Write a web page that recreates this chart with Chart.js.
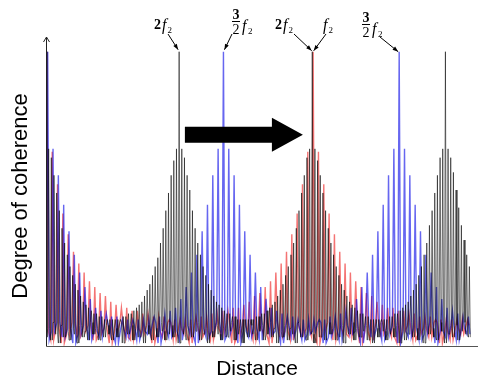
<!DOCTYPE html>
<html>
<head>
<meta charset="utf-8">
<script src="https://cdn.jsdelivr.net/npm/chart.js@4"></script>
<style>
  html, body { margin: 0; padding: 0; background: #fff; }
</style>
</head>
<body>
<canvas id="coherenceChart" width="481" height="381"></canvas>
<script>
// fringe spacing along the distance axis (2f2 fringes are twice as dense)
const blackStep = 0.625;
const colorStep = 1.25;

// fringe tops (upper envelope) and fringe bottoms, one per fringe
const blackPeaks = [
    1.00, 0.67, 0.64, 0.58, 0.52, 0.46, 0.40, 0.35, 0.31, 0.27,
    0.24, 0.21, 0.19, 0.17, 0.15, 0.14, 0.13, 0.12, 0.11, 0.11,
    0.10, 0.10, 0.09, 0.09, 0.09, 0.09, 0.09, 0.09, 0.09, 0.10,
    0.10, 0.11, 0.11, 0.12, 0.13, 0.14, 0.15, 0.17, 0.19, 0.21,
    0.24, 0.27, 0.30, 0.35, 0.40, 0.46, 0.52, 0.58, 0.63, 0.67,
    1.00, 0.67, 0.64, 0.58, 0.53, 0.46, 0.40, 0.35, 0.31, 0.27,
    0.24, 0.21, 0.19, 0.17, 0.15, 0.14, 0.13, 0.12, 0.11, 0.11,
    0.10, 0.10, 0.09, 0.09, 0.09, 0.09, 0.09, 0.09, 0.09, 0.10,
    0.10, 0.11, 0.11, 0.12, 0.13, 0.14, 0.15, 0.17, 0.19, 0.21,
    0.24, 0.27, 0.31, 0.35, 0.40, 0.46, 0.52, 0.58, 0.64, 0.67,
    1.00, 0.67, 0.63, 0.58, 0.52, 0.46, 0.40, 0.35, 0.31, 0.27,
    0.24, 0.21, 0.19, 0.17, 0.15, 0.14, 0.13, 0.12, 0.11, 0.11,
    0.10, 0.10, 0.09, 0.09, 0.09, 0.09, 0.09, 0.09, 0.09, 0.10,
    0.10, 0.11, 0.11, 0.12, 0.13, 0.14, 0.15, 0.17, 0.19, 0.21,
    0.24, 0.27, 0.31, 0.35, 0.41, 0.46, 0.52, 0.58, 0.64, 0.67,
    1.00, 0.67, 0.64, 0.59, 0.53, 0.47, 0.41, 0.36, 0.31, 0.27
];
const blackLows = [
    0.03, 0.06, 0.02, 0.08, 0.04, 0.01, 0.07, 0.03, 0.05, 0.02,
    0.06, 0.04, 0.01, 0.07, 0.03, 0.05, 0.02, 0.08, 0.04, 0.06,
    0.02, 0.05, 0.03, 0.07, 0.04, 0.02, 0.06, 0.03, 0.08, 0.01,
    0.05, 0.04, 0.07, 0.02, 0.06, 0.03, 0.05, 0.01, 0.07, 0.04,
    0.02, 0.06, 0.03, 0.08, 0.05, 0.02, 0.04, 0.07, 0.03, 0.05,
    0.01, 0.06, 0.04, 0.02, 0.07, 0.03, 0.05, 0.08, 0.02, 0.04,
    0.06, 0.01, 0.05, 0.03, 0.07, 0.04, 0.02, 0.06, 0.03, 0.05,
    0.08, 0.02, 0.04, 0.06, 0.01, 0.05, 0.03, 0.07, 0.04, 0.02,
    0.05, 0.07, 0.02, 0.04, 0.08, 0.03, 0.06, 0.01, 0.05, 0.03,
    0.07, 0.02, 0.06, 0.04, 0.01, 0.08, 0.03, 0.05, 0.02, 0.06,
    0.04, 0.01, 0.07, 0.03, 0.05, 0.02, 0.08, 0.04, 0.06, 0.02,
    0.03, 0.07, 0.01, 0.05, 0.04, 0.08, 0.02, 0.06, 0.03, 0.05,
    0.07, 0.02, 0.04, 0.01, 0.06, 0.03, 0.08, 0.05, 0.02, 0.04,
    0.06, 0.03, 0.07, 0.01, 0.05, 0.02, 0.04, 0.08, 0.03, 0.06,
    0.02, 0.05, 0.01, 0.07, 0.04, 0.06, 0.03, 0.02, 0.08, 0.05,
    0.01, 0.04, 0.06, 0.03, 0.07, 0.02, 0.05, 0.08, 0.04, 0.03
];

const bluePeaks = [
    1.00, 0.67, 0.58, 0.48, 0.39, 0.31, 0.25, 0.20, 0.16, 0.13,
    0.12, 0.11, 0.10, 0.10, 0.09, 0.09, 0.09, 0.09, 0.09, 0.09,
    0.10, 0.10, 0.11, 0.12, 0.13, 0.16, 0.20, 0.25, 0.31, 0.39,
    0.48, 0.58, 0.67, 1.00, 0.67, 0.58, 0.48, 0.39, 0.31, 0.25,
    0.20, 0.16, 0.13, 0.12, 0.11, 0.10, 0.10, 0.09, 0.09, 0.09,
    0.09, 0.09, 0.09, 0.10, 0.10, 0.11, 0.12, 0.13, 0.16, 0.20,
    0.25, 0.31, 0.39, 0.48, 0.58, 0.67, 1.00, 0.67, 0.58, 0.48,
    0.39, 0.31, 0.25, 0.20, 0.16, 0.13, 0.12, 0.11, 0.10, 0.10
];
const blueLows = [
    0.02, 0.05, 0.08, 0.03, 0.06, 0.01, 0.04, 0.07, 0.02, 0.05,
    0.03, 0.08, 0.04, 0.01, 0.06, 0.03, 0.07, 0.02, 0.05, 0.04,
    0.08, 0.01, 0.06, 0.03, 0.05, 0.02, 0.07, 0.04, 0.01, 0.06,
    0.03, 0.05, 0.08, 0.02, 0.04, 0.07, 0.01, 0.05, 0.03, 0.06,
    0.02, 0.08, 0.04, 0.05, 0.01, 0.07, 0.03, 0.06, 0.02, 0.04,
    0.05, 0.08, 0.01, 0.03, 0.06, 0.02, 0.07, 0.04, 0.05, 0.01,
    0.08, 0.03, 0.06, 0.02, 0.04, 0.07, 0.01, 0.05, 0.03, 0.06,
    0.02, 0.04, 0.08, 0.01, 0.05, 0.03, 0.07, 0.02, 0.06, 0.04
];

const redPeaks = [
    1.00, 0.66, 0.55, 0.45, 0.38, 0.32, 0.28, 0.25, 0.22, 0.20,
    0.18, 0.17, 0.15, 0.14, 0.13, 0.13, 0.12, 0.12, 0.11, 0.11,
    0.10, 0.10, 0.10, 0.09, 0.09, 0.09, 0.09, 0.09, 0.10, 0.10,
    0.10, 0.11, 0.11, 0.12, 0.12, 0.13, 0.13, 0.14, 0.15, 0.17,
    0.18, 0.20, 0.22, 0.25, 0.28, 0.32, 0.38, 0.45, 0.55, 0.66,
    1.00, 0.66, 0.55, 0.45, 0.38, 0.32, 0.28, 0.25, 0.22, 0.20,
    0.18, 0.17, 0.15, 0.14, 0.13, 0.13, 0.12, 0.12, 0.11, 0.11,
    0.10, 0.10, 0.10, 0.09, 0.09, 0.09, 0.09, 0.09, 0.09, 0.09
];
const redLows = [
    0.05, 0.02, 0.06, 0.01, 0.04, 0.08, 0.03, 0.05, 0.07, 0.02,
    0.04, 0.06, 0.01, 0.05, 0.08, 0.03, 0.02, 0.06, 0.04, 0.07,
    0.01, 0.05, 0.03, 0.08, 0.02, 0.06, 0.04, 0.01, 0.07, 0.03,
    0.05, 0.02, 0.06, 0.04, 0.08, 0.01, 0.03, 0.07, 0.05, 0.02,
    0.06, 0.04, 0.01, 0.08, 0.03, 0.05, 0.02, 0.07, 0.04, 0.06,
    0.03, 0.01, 0.05, 0.08, 0.02, 0.06, 0.04, 0.03, 0.07, 0.01,
    0.05, 0.02, 0.08, 0.04, 0.06, 0.03, 0.01, 0.05, 0.07, 0.02,
    0.04, 0.06, 0.03, 0.08, 0.01, 0.05, 0.02, 0.06, 0.04, 0.07
];

// each fringe is a narrow spike: foot, top, foot
function fringes(peaks, lows, dx, shift, half) {
    const pts = [];
    peaks.forEach((p, i) => {
        const x = i * dx + shift;
        pts.push({ x: x - half, y: lows[i] });
        pts.push({ x: x, y: p });
        pts.push({ x: x + half, y: lows[i] });
    });
    return pts;
}

function arrow(ctx, x1, y1, x2, y2) {
    const a = Math.atan2(y2 - y1, x2 - x1);
    ctx.beginPath();
    ctx.moveTo(x1, y1);
    ctx.lineTo(x2, y2);
    ctx.stroke();
    ctx.beginPath();
    ctx.moveTo(x2, y2);
    ctx.lineTo(x2 - 6 * Math.cos(a - 0.35), y2 - 6 * Math.sin(a - 0.35));
    ctx.lineTo(x2 - 6 * Math.cos(a + 0.35), y2 - 6 * Math.sin(a + 0.35));
    ctx.closePath();
    ctx.fill();
}

// "2f2" or "f2" with an optional leading number
function fLabel(ctx, x, base, lead) {
    let cx = x;
    ctx.textAlign = 'left';
    if (lead) {
        ctx.font = 'bold 14px "Liberation Serif"';
        ctx.fillText(lead, cx, base);
        cx += ctx.measureText(lead).width + 1;
    }
    ctx.font = 'italic 16px "Liberation Serif"';
    ctx.fillText('f', cx, base + 1);
    cx += ctx.measureText('f').width + 1;
    ctx.font = '9px "Liberation Serif"';
    ctx.fillText('2', cx, base + 4);
}

// "3/2 f2" written as a stacked fraction
function fracLabel(ctx, x, base) {
    ctx.font = 'bold 14px "Liberation Serif"';
    ctx.textAlign = 'center';
    ctx.fillText('3', x + 4, base - 12);
    ctx.fillRect(x, base - 10, 8, 1);
    ctx.font = '14px "Liberation Serif"';
    ctx.fillText('2', x + 4, base + 3);
    ctx.textAlign = 'left';
    ctx.font = 'italic 16px "Liberation Serif"';
    ctx.fillText('f', x + 10, base);
    ctx.font = '9px "Liberation Serif"';
    ctx.fillText('2', x + 16, base + 3);
}

const overlay = {
    id: 'overlay',
    afterDatasetsDraw(chart) {
        const ctx = chart.ctx;
        const xs = chart.scales.x;
        const ys = chart.scales.y;
        const area = chart.chartArea;
        const x0 = Math.round(xs.getPixelForValue(0)) + 0.5;
        const y0 = Math.round(ys.getPixelForValue(0)) + 0.5;
        const yTop = ys.getPixelForValue(1.0);
        ctx.save();

        // axes
        ctx.strokeStyle = '#222';
        ctx.lineWidth = 1;
        ctx.beginPath();
        ctx.moveTo(x0, y0);
        ctx.lineTo(x0, area.top);
        ctx.moveTo(x0 - 3, area.top + 5);
        ctx.lineTo(x0, area.top);
        ctx.lineTo(x0 + 3, area.top + 5);
        ctx.stroke();
        ctx.strokeStyle = '#555';
        ctx.beginPath();
        ctx.moveTo(x0, y0);
        ctx.lineTo(area.right, y0);
        ctx.stroke();

        // axis titles
        ctx.fillStyle = '#000';
        ctx.font = '21px "Liberation Sans"';
        ctx.textAlign = 'center';
        ctx.textBaseline = 'alphabetic';
        ctx.fillText('Distance', 257, 375);
        ctx.save();
        ctx.translate(27, 196);
        ctx.rotate(-Math.PI / 2);
        ctx.font = '22px "Liberation Sans"';
        ctx.fillText('Degree of coherence', 0, 0);
        ctx.restore();

        // big shift arrow
        const ax1 = xs.getPixelForValue(32.6);
        const ax2 = xs.getPixelForValue(60.3);
        const ay = ys.getPixelForValue(0.718);
        ctx.fillStyle = '#000';
        ctx.beginPath();
        ctx.moveTo(ax1, ay - 8);
        ctx.lineTo(ax2 - 31, ay - 8);
        ctx.lineTo(ax2 - 31, ay - 17);
        ctx.lineTo(ax2, ay);
        ctx.lineTo(ax2 - 31, ay + 17);
        ctx.lineTo(ax2 - 31, ay + 8);
        ctx.lineTo(ax1, ay + 8);
        ctx.closePath();
        ctx.fill();

        // peak labels
        const pBlack = xs.getPixelForValue(50 * blackStep);
        const pBlue = xs.getPixelForValue(33 * colorStep + 0.4);
        const pMid = xs.getPixelForValue(100 * blackStep + 0.1);
        const pBlue2 = xs.getPixelForValue(66 * colorStep + 0.4);
        ctx.strokeStyle = '#000';
        ctx.lineWidth = 1;
        fLabel(ctx, 154, 29, '2');
        arrow(ctx, 168, 34, pBlack - 1, yTop - 2);
        fracLabel(ctx, 232, 31);
        arrow(ctx, 232, 34, pBlue + 1, yTop - 2);
        fLabel(ctx, 275, 29, '2');
        arrow(ctx, 294, 34, pMid - 1, yTop - 1);
        fLabel(ctx, 323, 29, '');
        arrow(ctx, 326, 34, pMid + 1, yTop - 1);
        fracLabel(ctx, 362, 34);
        arrow(ctx, 380, 37, pBlue2 - 1, yTop);
        ctx.restore();
    }
};

const ctx = document.getElementById('coherenceChart').getContext('2d');
const myChart = new Chart(ctx, {
    type: 'line',
    data: {
        datasets: [
            {
                label: '2f2',
                data: fringes(blackPeaks, blackLows, blackStep, 0, 0.22),
                borderColor: 'rgba(0, 0, 0, 0.55)',
                borderWidth: 1
            },
            {
                label: '3/2 f2',
                data: fringes(bluePeaks, blueLows, colorStep, 0.4, 0.35),
                borderColor: 'rgba(0, 0, 230, 0.6)',
                borderWidth: 1.4
            },
            {
                label: 'f2',
                data: fringes(redPeaks, redLows, colorStep, 0.2, 0.35),
                borderColor: 'rgba(235, 0, 0, 0.55)',
                borderWidth: 1.4
            }
        ]
    },
    options: {
        responsive: false,
        animation: false,
        devicePixelRatio: 1,
        layout: { padding: { left: 46, right: 3, top: 37, bottom: 35 } },
        elements: {
            point: { radius: 0 },
            line: { tension: 0 }
        },
        scales: {
            x: { type: 'linear', min: 0, max: 101.4, display: false },
            y: { min: 0, max: 1.05, display: false }
        },
        plugins: {
            legend: { display: false },
            tooltip: { enabled: false }
        }
    },
    plugins: [overlay]
});
</script>
</body>
</html>
